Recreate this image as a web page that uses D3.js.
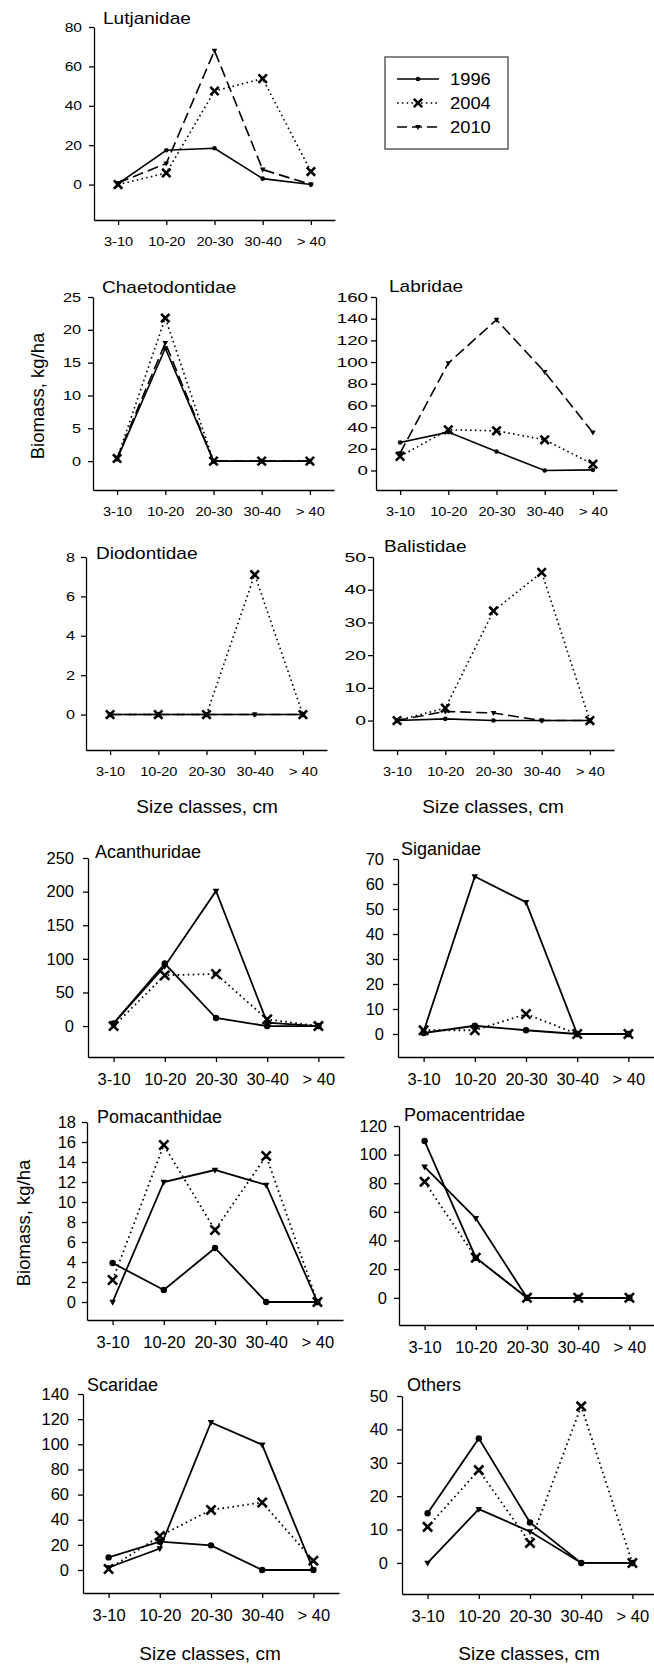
<!DOCTYPE html>
<html>
<head>
<meta charset="utf-8">
<script src="https://cdn.jsdelivr.net/npm/d3@7"></script>
<style>
body { margin: 0; background: #fff; }
svg { display: block; font-family: "Liberation Sans", Arial, sans-serif; }
</style>
</head>
<body>
<script>
var sizeClasses = ["3-10", "10-20", "20-30", "30-40", "> 40"]
var years = ["1996", "2004", "2010"]

// biomass (kg/ha) per size class, rows are 1996, 2004, 2010
var lutjanidae     = [[0.5, 17.4, 18.4, 3, 0],   [0, 5.9, 47.5, 53.8, 6.6],   [0.8, 10.7, 68, 7.6, 0]]
var chaetodontidae = [[0.3, 17.2, 0, 0, 0],      [0.4, 21.8, 0, 0, 0],        [0.5, 18, 0, 0, 0]]
var labridae       = [[25.8, 35.4, 17.5, 0, 0.6],[13, 37.5, 36.6, 28.3, 5.8], [16, 99, 139, 90.8, 35]]
var diodontidae    = [[0, 0, 0, 0, 0],           [0, 0, 0, 7.1, 0],           [0, 0, 0, 0, 0]]
var balistidae     = [[0, 0.5, 0, 0, 0],         [0, 3.8, 33.5, 45.3, 0],     [0, 2.8, 2.3, 0, 0]]
var acanthuridae   = [[4, 93, 12, 0, 0],         [0, 75.5, 77.5, 10, 0],      [4, 89, 201, 5, 0]]
var siganidae      = [[0.4, 3.3, 1.5, 0, 0],     [1.5, 1.5, 8, 0, 0],         [1, 63, 52.7, 0, 0]]
var pomacanthidae  = [[3.9, 1.2, 5.4, 0, 0],     [2.2, 15.7, 7.2, 14.6, 0],   [0, 12, 13.2, 11.7, 0]]
var pomacentridae  = [[109.5, 28, 0, 0, 0],      [81, 28, 0, 0, 0],           [91.5, 55.5, 0, 0, 0]]
var scaridae       = [[10, 22.5, 19.6, 0, 0],    [0.8, 27, 47.8, 53.7, 7.4],  [2, 17, 117.4, 99.6, 0]]
var others         = [[14.9, 37.3, 12.1, 0, 0],  [10.8, 27.8, 6, 46.9, 0],    [0, 16.1, 9.4, 0, 0]]

// y axes: top tick, tick step, low end of the axis
var yTop  = [80, 25, 160, 8, 50, 250, 70, 18, 120, 140, 50]
var yStep = [20, 5, 20, 2, 10, 50, 10, 2, 20, 20, 10]
var yLow  = [-18, -4.4, -18, -1.8, -9, -46, -9.2, -1.8, -19, -18.3, -9.3]

// where each panel sits (gap = axis to tick label, ysx = label stretch)
var panels = [
  {name: "Lutjanidae",     data: lutjanidae,     fig: "top",    x: 94,  top: 27,   bottom: 220,  tdx: 9,  tdy: -3, gap: 12, ysx: 1.25},
  {name: "Chaetodontidae", data: chaetodontidae, fig: "top",    x: 93,  top: 297,  bottom: 490,  tdx: 9,  tdy: -4, gap: 12, ysx: 1.3},
  {name: "Labridae",       data: labridae,       fig: "top",    x: 376, top: 297,  bottom: 490,  tdx: 13, tdy: -5, gap: 8,  ysx: 1.5},
  {name: "Diodontidae",    data: diodontidae,    fig: "top",    x: 86,  top: 557,  bottom: 750,  tdx: 10, tdy: 2,  gap: 11, ysx: 1.3},
  {name: "Balistidae",     data: balistidae,     fig: "top",    x: 373, top: 557,  bottom: 750,  tdx: 11, tdy: -5, gap: 7,  ysx: 1.55},
  {name: "Acanthuridae",   data: acanthuridae,   fig: "bottom", x: 88,  top: 858,  bottom: 1057, tdx: 7,  tdy: 0,  gap: 14, ysx: 1},
  {name: "Siganidae",      data: siganidae,      fig: "bottom", x: 398, top: 859,  bottom: 1057, tdx: 3,  tdy: -4, gap: 14, ysx: 1},
  {name: "Pomacanthidae",  data: pomacanthidae,  fig: "bottom", x: 87,  top: 1122, bottom: 1320, tdx: 10, tdy: 1,  gap: 11, ysx: 1},
  {name: "Pomacentridae",  data: pomacentridae,  fig: "bottom", x: 399, top: 1126, bottom: 1325, tdx: 5,  tdy: -5, gap: 12, ysx: 1},
  {name: "Scaridae",       data: scaridae,       fig: "bottom", x: 83,  top: 1394, bottom: 1593, tdx: 4,  tdy: -3, gap: 14, ysx: 1},
  {name: "Others",         data: others,         fig: "bottom", x: 402, top: 1396, bottom: 1594, tdx: 5,  tdy: -5, gap: 14, ysx: 1}
]

var figStyle = {
  top:    {w: 241, tick: 13,   ytick: 12.5, sx: 1.12, title: 17, xpad: 12, lw: 1.6, r: 2.3, xs: 4.2, tri: 2.8, dash: ["none", "1.6,3.2", "11,5"]},
  bottom: {w: 256, tick: 16.5, ytick: 16.5, sx: 1,    title: 18, xpad: 11, lw: 1.8, r: 3.2, xs: 4.6, tri: 3.3, dash: ["none", "1.6,3.4", "none"]}
}

var svg = d3.select("body").append("svg")
  .attr("width", 654)
  .attr("height", 1665)

function marker(sel, k, f) {
  if (k == 0) {
    sel.append("circle").attr("r", f.r).attr("fill", "#000")
  } else if (k == 1) {
    var s = f.xs
    sel.append("path")
      .attr("d", "M" + (-s) + "," + (-s) + "L" + s + "," + s + "M" + (-s) + "," + s + "L" + s + "," + (-s))
      .attr("stroke", "#000").attr("stroke-width", 2.6).attr("fill", "none")
  } else {
    var t = f.tri
    sel.append("path")
      .attr("d", "M" + (-t) + "," + (-t * 0.7) + "L" + t + "," + (-t * 0.7) + "L0," + (t * 1.1) + "Z")
      .attr("fill", "#000")
  }
}

panels.forEach(function(p, i) {
  var f = figStyle[p.fig]
  var xScale = d3.scalePoint()
    .domain(sizeClasses)
    .range([p.x, p.x + f.w])
    .padding(0.5)
  var yScale = d3.scaleLinear()
    .domain([yLow[i], yTop[i]])
    .range([p.bottom, p.top])
  var ticks = d3.range(0, yTop[i] + yStep[i] / 2, yStep[i])

  var g = svg.append("g")

  var yAxis = g.append("g")
    .attr("transform", "translate(" + p.x + ",0)")
    .call(d3.axisLeft(yScale).tickValues(ticks).tickSize(5).tickSizeOuter(0))
  var xAxis = g.append("g")
    .attr("transform", "translate(0," + p.bottom + ")")
    .call(d3.axisBottom(xScale).tickSize(5).tickSizeOuter(0).tickPadding(f.xpad))

  g.selectAll("g").attr("font-family", null).attr("font-size", null)
  g.selectAll(".domain, .tick line").attr("stroke", "#000").attr("stroke-width", 1.3)
  xAxis.selectAll(".tick text")
    .attr("fill", "#000")
    .style("font-size", f.tick + "px")
    .attr("transform", "scale(" + f.sx + ",1)")
  yAxis.selectAll(".tick text")
    .attr("fill", "#000")
    .style("font-size", f.ytick + "px")
    .attr("x", -p.gap / p.ysx)
    .attr("transform", "scale(" + p.ysx + ",1)")

  g.append("text")
    .attr("transform", "translate(" + (p.x + p.tdx) + "," + (p.top + p.tdy) + ") scale(" + f.sx + ",1)")
    .style("font-size", f.title + "px")
    .text(p.name)

  var line = d3.line()
    .x(function(d, j) { return xScale(sizeClasses[j]) })
    .y(function(d) { return yScale(d) })

  p.data.forEach(function(series, k) {
    g.append("path")
      .attr("d", line(series))
      .attr("fill", "none")
      .attr("stroke", "#000")
      .attr("stroke-width", f.lw)
      .attr("stroke-dasharray", f.dash[k])
    series.forEach(function(v, j) {
      var m = g.append("g").attr("transform", "translate(" + xScale(sizeClasses[j]) + "," + yScale(v) + ")")
      marker(m, k, f)
    })
  })
})

// axis titles
var yLabels = [[44, 396], [30, 1223]]
yLabels.forEach(function(d) {
  svg.append("text")
    .attr("transform", "translate(" + d[0] + "," + d[1] + ") rotate(-90)")
    .attr("text-anchor", "middle")
    .style("font-size", "18.5px")
    .text("Biomass, kg/ha")
})
var xLabels = [[207, 813], [493, 813], [210, 1660], [529, 1660]]
xLabels.forEach(function(d) {
  svg.append("text")
    .attr("x", d[0]).attr("y", d[1])
    .attr("text-anchor", "middle")
    .style("font-size", "19px")
    .text("Size classes, cm")
})

// legend
var legend = svg.append("g")
legend.append("rect")
  .attr("x", 385).attr("y", 57).attr("width", 123).attr("height", 92)
  .attr("fill", "none").attr("stroke", "#444").attr("stroke-width", 1.3)
years.forEach(function(yr, k) {
  var y = 79 + k * 24
  legend.append("line")
    .attr("x1", 397).attr("x2", 439).attr("y1", y).attr("y2", y)
    .attr("stroke", "#000").attr("stroke-width", 1.6)
    .attr("stroke-dasharray", k == 2 ? "10,5" : figStyle.top.dash[k])
  var m = legend.append("g").attr("transform", "translate(418," + y + ")")
  marker(m, k, figStyle.top)
  legend.append("text")
    .attr("transform", "translate(450," + (y + 6) + ") scale(1.08,1)")
    .style("font-size", "17px")
    .text(yr)
})
</script>
</body>
</html>
